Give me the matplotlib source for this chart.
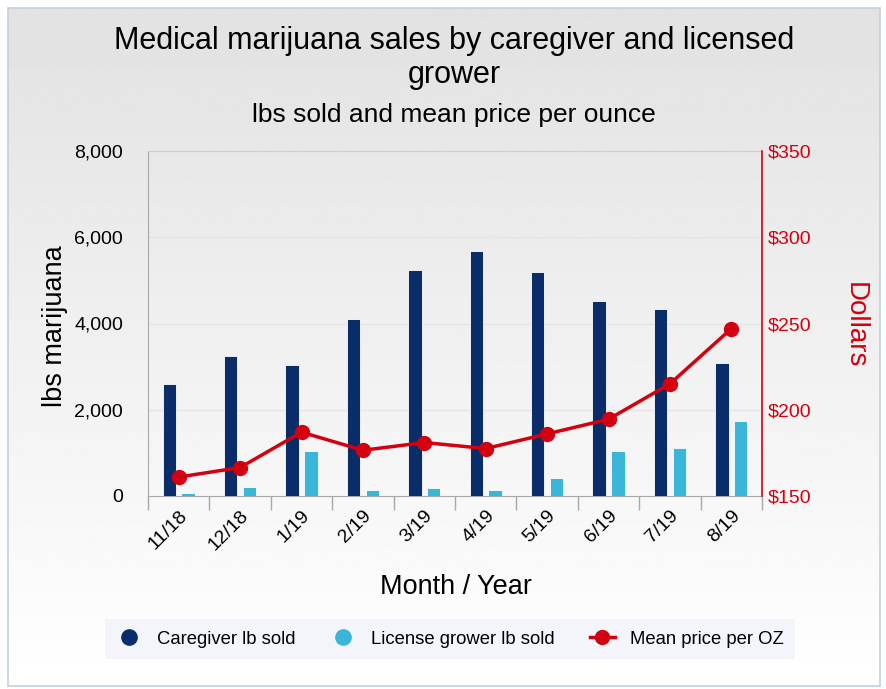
import matplotlib.pyplot as plt
import numpy as np
from matplotlib.lines import Line2D
from matplotlib.patches import Rectangle

months = ['11/18', '12/18', '1/19', '2/19', '3/19', '4/19', '5/19', '6/19', '7/19', '8/19']
caregiver_lbs = [2600, 3240, 3040, 4100, 5240, 5670, 5200, 4530, 4330, 3080]
grower_lbs = [60, 215, 1040, 140, 175, 140, 410, 1040, 1115, 1740]
mean_price = [161, 166.5, 187, 176.5, 181, 177.5, 186, 194.5, 215, 247]

NAVY = '#0a2d6a'
CYAN = '#39b6d8'
RED = '#d3000f'
GRAY = '#a8a8a8'

plt.rcParams['font.family'] = ['Liberation Sans', 'DejaVu Sans']

fig = plt.figure(figsize=(8.87, 6.89), dpi=100)
fig.patch.set_facecolor('white')

# gradient background inside the outer border
bx0, by0, bw, bh = 8 / 887, 3 / 689, 872 / 887, 678 / 689
bg = fig.add_axes([bx0, by0, bw, bh], zorder=-10)
grad = np.linspace(0.885, 1.0, 256).reshape(-1, 1)
bg.imshow(grad, cmap='gray', vmin=0, vmax=1, aspect='auto', extent=[0, 1, 0, 1])
bg.axis('off')
fig.patches.append(Rectangle((bx0, by0), bw, bh, transform=fig.transFigure,
                             fill=False, edgecolor='#c3cfdc', linewidth=1.2))

ax = fig.add_axes([148 / 887, 1 - 496 / 689, 614 / 887, 345 / 689])
ax.patch.set_alpha(0)
x = np.arange(len(months))
ax.bar(x - 0.153, caregiver_lbs, 0.22, color=NAVY, edgecolor='white', linewidth=0.6, zorder=3)
ax.bar(x + 0.153, grower_lbs, 0.22, color=CYAN, edgecolor='white', linewidth=0.6, zorder=3)
ax.set_xlim(-0.5, len(months) - 0.5)
ax.set_ylim(0, 8000)
ax.set_yticks(range(0, 8001, 2000))
ax.set_yticklabels([f'{v:,}' for v in range(0, 8001, 2000)], fontsize=14)
for v in (2000, 4000, 6000):
    ax.axhline(v, color='#e4e4e4', linewidth=1, zorder=1)
ax.tick_params(axis='y', length=0, pad=18)

ax.set_xticks(x)
ax.set_xticklabels(months, rotation=45, ha='right', rotation_mode='anchor', fontsize=14)
ax.tick_params(axis='x', which='major', length=0, pad=8)
ax.set_xticks(np.arange(-0.5, len(months)), minor=True)
ax.tick_params(axis='x', which='minor', length=10, color=GRAY, width=1)

for s in ('left', 'bottom', 'top'):
    ax.spines[s].set_color(GRAY)
ax.spines['top'].set_color('#cfcfcf')
ax.spines['right'].set_visible(False)

ax2 = ax.twinx()
ax2.plot(x, mean_price, color=RED, linewidth=2.5, marker='o', markersize=10, zorder=5)
ax2.set_ylim(150, 350)
ax2.set_yticks(range(150, 351, 50))
ax2.set_yticklabels([f'${v}' for v in range(150, 351, 50)], fontsize=14, color=RED)
ax2.tick_params(axis='y', length=0, pad=4)
ax2.spines['right'].set_color(RED)
ax2.spines['right'].set_linewidth(1.2)
for s in ('left', 'bottom', 'top'):
    ax2.spines[s].set_visible(False)

fig.text(0.512, 1 - 41 / 689, 'Medical marijuana sales by caregiver and licensed',
         ha='center', va='center', fontsize=22)
fig.text(0.512, 1 - 75 / 689, 'grower', ha='center', va='center', fontsize=22)
fig.text(0.512, 1 - 115 / 689, 'lbs sold and mean price per ounce',
         ha='center', va='center', fontsize=19)
fig.text(55 / 887, 1 - 326 / 689, 'lbs marijuana', rotation=90,
         ha='center', va='center', fontsize=19.5)
fig.text(855 / 887, 1 - 325 / 689, 'Dollars', rotation=-90,
         ha='center', va='center', fontsize=20, color=RED)
fig.text(456 / 887, 1 - 587 / 689, 'Month / Year', ha='center', va='center', fontsize=19.5)

handles = [
    Line2D([], [], linestyle='none', marker='o', markersize=11, color=NAVY),
    Line2D([], [], linestyle='none', marker='o', markersize=11, color=CYAN),
    Line2D([], [], color=RED, linewidth=2.5, marker='o', markersize=10),
]
labels = ['Caregiver lb sold', 'License grower lb sold', 'Mean price per OZ']
leg = fig.legend(handles, labels, loc='center', bbox_to_anchor=(450 / 887, 1 - 639 / 689),
                 ncol=3, fontsize=13.3, frameon=True, fancybox=False,
                 facecolor='#f3f5fa', edgecolor='none', framealpha=1,
                 handlelength=1.4, columnspacing=1.9, borderpad=0.6, handletextpad=0.8)

fig.savefig('out.png', dpi=100)
